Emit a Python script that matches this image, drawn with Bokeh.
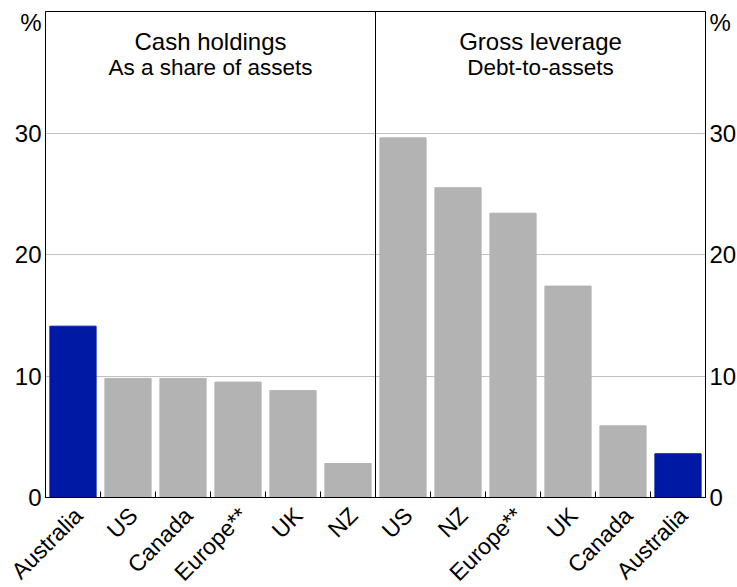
import math
from bokeh.plotting import figure
from bokeh.models import (ColumnDataSource, FixedTicker, LinearAxis, Span, Label, Range1d)
from bokeh.embed import file_html
from bokeh.resources import INLINE

# ---- data ----
cash_countries = ["Australia", "US", "Canada", "Europe**", "UK", "NZ"]
cash_values = [14.1, 9.8, 9.8, 9.5, 8.8, 2.8]
lev_countries = ["US", "NZ", "Europe**", "UK", "Canada", "Australia"]
lev_values = [29.6, 25.5, 23.4, 17.4, 5.9, 3.6]
y_ticks = [0, 10, 20, 30]
unit_tick = 39.1
panel_titles = ["Cash holdings", "Gross leverage"]
panel_subtitles = ["As a share of assets", "Debt-to-assets"]

BLUE = "#0019a5"
GREY = "#b3b3b3"
FONT = "Liberation Sans"

labels = cash_countries + lev_countries
values = cash_values + lev_values
n = len(labels)
xs = [i + 0.5 for i in range(n)]
label_pos = [x + 0.1 for x in xs]   # rotated labels sit slightly right of bar centres
colors = [BLUE if c == "Australia" else GREY for c in labels]
src = ColumnDataSource(dict(x=xs, top=values, color=colors))

p = figure(frame_width=660, frame_height=486, output_backend="svg", toolbar_location=None,
           x_range=Range1d(0, n), y_range=Range1d(0, 40),
           min_border_left=45, min_border_right=32, min_border_top=11, min_border_bottom=90)
p.outline_line_color = "black"
p.outline_line_width = 1
p.background_fill_color = "white"
p.border_fill_color = "white"

p.vbar(x="x", top="top", width=0.84, color="color", source=src)

# grid
p.xgrid.visible = False
p.ygrid.ticker = FixedTicker(ticks=[10, 20, 30])
p.ygrid.grid_line_color = "#c0c0c0"
p.ygrid.grid_line_width = 1

# x axis
xa = p.xaxis[0]
xa.ticker = FixedTicker(ticks=label_pos, minor_ticks=[1, 2, 3, 4, 5, 7, 8, 9, 10, 11])
xa.major_label_overrides = {x: lab for x, lab in zip(label_pos, labels)}
xa.major_label_orientation = math.pi / 4
xa.major_tick_line_color = None
xa.major_tick_in = 0
xa.major_tick_out = 0
xa.minor_tick_in = 6
xa.minor_tick_out = 0
xa.minor_tick_line_color = "black"
xa.axis_line_color = "black"
xa.major_label_text_font = FONT
xa.major_label_text_font_size = "23px"
xa.major_label_text_color = "black"
xa.major_label_standoff = 14

# y axes (with "%" unit label as an extra tick near the top)
unit_overrides = {unit_tick: "%"}


def style_y(ax, standoff):
    ax.ticker = FixedTicker(ticks=y_ticks + [unit_tick])
    ax.major_label_overrides = unit_overrides
    ax.major_tick_line_color = None
    ax.major_tick_in = 0
    ax.major_tick_out = 0
    ax.minor_tick_line_color = None
    ax.minor_tick_in = 0
    ax.minor_tick_out = 0
    ax.axis_line_color = "black"
    ax.major_label_text_font = FONT
    ax.major_label_text_font_size = "24px"
    ax.major_label_text_color = "black"
    ax.major_label_standoff = standoff


style_y(p.yaxis[0], 4)
yr = LinearAxis()
style_y(yr, 4)
p.add_layout(yr, "right")

# panel divider
p.add_layout(Span(location=n / 2, dimension="height", line_color="black", line_width=1))

# panel titles
for k in range(2):
    cx = n / 4 + k * n / 2
    p.add_layout(Label(x=cx, y=40, y_offset=-30, text=panel_titles[k], text_align="center",
                       text_baseline="alphabetic", text_font=FONT, text_font_size="24px",
                       text_color="black"))
    p.add_layout(Label(x=cx, y=40, y_offset=-56, text=panel_subtitles[k], text_align="center",
                       text_baseline="alphabetic", text_font=FONT, text_font_size="22.5px",
                       text_color="black"))

open("out.html", "w").write(file_html(p, INLINE))
